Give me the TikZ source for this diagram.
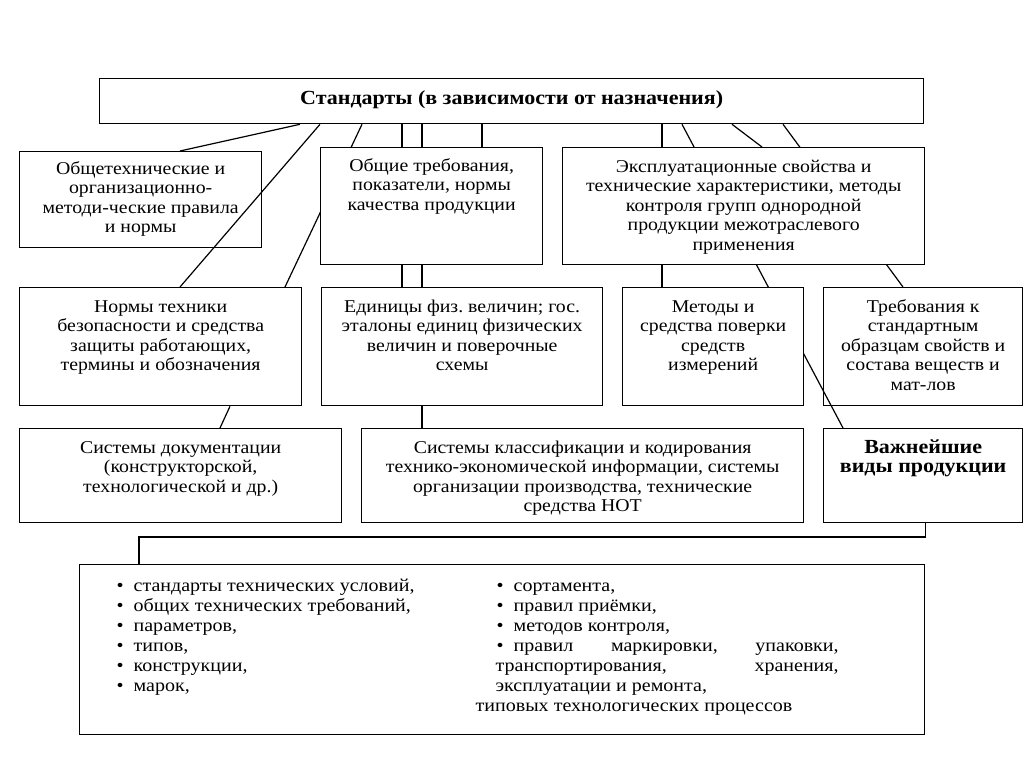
\documentclass[tikz,border=0pt]{standalone}
\usepackage{fontspec}
\setmainfont{Liberation Serif}[FakeStretch=1.1]
\usetikzlibrary{backgrounds}
\frenchspacing
% text of a box: width, height, top padding, lines
\newcommand{\boxtext}[4]{\parbox[t][#2pt][t]{#1pt}{\centering\vspace*{#3pt}\strut #4}}
% bullet of the list
\newcommand{\itm}{\textbullet\hspace{10pt}}

\begin{document}
\begin{tikzpicture}[x=1pt,y=1pt,yscale=-1,xscale=1,
		box/.style={draw, line width=1.3pt, fill=white, anchor=north west, inner sep=0pt},
		clearbox/.style={box, fill=none},
		link/.style={line width=1.2pt},
		font=\fontsize{18}{19.5}\selectfont]
		\useasboundingbox (0,0) rectangle (1024,767);

		% The title box
		\path (99,78) node[box] (std) {\boxtext{824}{45}{12}{\fontsize{20}{20}\selectfont\bfseries Стандарты (в зависимости от назначения)}};

		% The boxes with their texts
		\path (19,151) node[clearbox] (obsh) {\boxtext{242}{96}{9}{Общетехнические и\\ организационно-\\ методи-ческие правила\\ и нормы}};
		\path (320,147) node[box] (treb) {\boxtext{222}{117}{10}{Общие требования,\\ показатели, нормы\\ качества продукции}};
		\path (562,147) node[box] (eksp) {\boxtext{362}{117}{11}{Эксплуатационные свойства и\\ технические характеристики, методы\\ контроля групп однородной\\ продукции межотраслевого\\ применения}};
		\path (19,287) node[box] (norm) {\boxtext{282}{118}{11}{Нормы техники\\ безопасности и средства\\ защиты работающих,\\ термины и обозначения}};
		\path (321,287) node[box] (edin) {\boxtext{281}{118}{11}{Единицы физ. величин; гос.\\ эталоны единиц физических\\ величин и поверочные\\ схемы}};
		\path (622,287) node[box] (metod) {\boxtext{181}{118}{11}{Методы и\\ средства поверки\\ средств\\ измерений}};
		\path (823,287) node[clearbox] (obraz) {\boxtext{199}{118}{11}{Требования к\\ стандартным\\ образцам свойств и\\ состава веществ и\\ мат-лов}};
		\path (19,428) node[box] (sist) {\boxtext{322}{94}{11}{Системы документации\\ (конструкторской,\\ технологической и др.)}};
		\path (361,428) node[box] (klass) {\boxtext{442}{94}{11}{Системы классификации и кодирования\\ технико-экономической информации, системы\\ организации производства, технические\\ средства НОТ}};
		\path (823,428) node[box] (vazh) {\boxtext{199}{94}{11}{\fontsize{20}{19.5}\selectfont\bfseries Важнейшие\\ виды продукции}};

		% The list of kinds of products
		\path (79,564) node[box, font=\fontsize{18.2}{20}\selectfont] (spis) {\parbox[t][170pt][t]{845pt}{\vspace*{13pt}%
			\hspace*{37pt}\begin{minipage}[t]{359pt}\raggedright
				\strut\itm стандарты технических условий,\\
				\itm общих технических требований,\\
				\itm параметров,\\
				\itm типов,\\
				\itm конструкции,\\
				\itm марок,
			\end{minipage}%
			\begin{minipage}[t]{440pt}\raggedright
				\strut\hspace*{21pt}\itm сортамента,\\
				\hspace*{21pt}\itm правил приёмки,\\
				\hspace*{21pt}\itm методов контроля,\\
				\hspace*{21pt}\hbox to 342pt{\itm правил\hfill маркировки,\hfill упаковки,}\\
				\hspace*{20pt}\hbox to 343pt{транспортирования,\hfill хранения,}\\
				\hspace*{20pt}эксплуатации и ремонта,\\
				типовых технологических процессов
			\end{minipage}}};

		\coordinate (bend) at (139,537);

		\begin{scope}[on background layer]
			% Connectors from the title box, the white boxes cover them
			\draw[link] (std.south -| 300,0) -- (obsh.north -| 180,0);
			\draw[link] (std.south -| 320,0) -- (norm.north -| 180,0);
			\draw[link] (std.south -| 362,0) -- (norm.north -| 285,0);
			\draw[link] (std.south -| 402,0) -- (edin.north -| 402,0);
			\draw[link] (std.south -| 422,0) -- (klass.north -| 422,0);
			\draw[link] (std.south -| 482,0) -- (treb.north -| 482,0);
			\draw[link] (std.south -| 662,0) -- (metod.north -| 662,0);
			\draw[link] (std.south -| 682,0) -- (vazh.north -| 843,0);
			\draw[link] (std.south -| 732,0) -- (eksp.north -| 762,0);
			\draw[link] (std.south -| 783,0) -- (obraz.north -| 903,0);

			% Lower connectors
			\draw[link] (norm.south -| 230,0) -- (sist.north -| 220,0);
			\draw[link] (vazh.south -| spis.north east) |- (bend) -- (bend |- spis.north);
		\end{scope}
	\end{tikzpicture}
\end{document}
